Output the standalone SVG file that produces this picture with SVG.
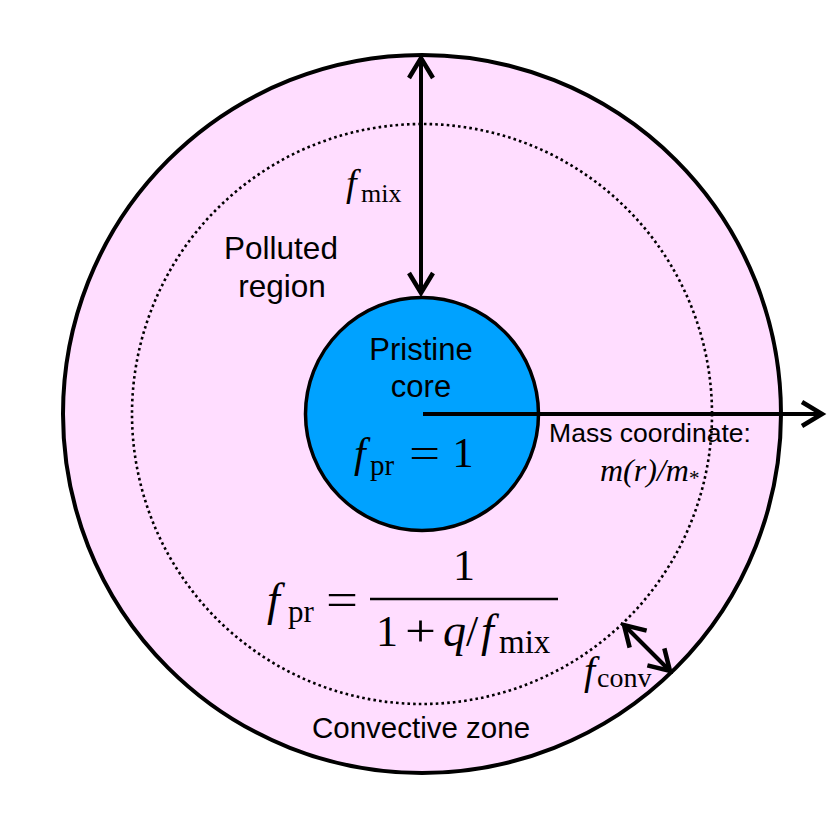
<svg xmlns="http://www.w3.org/2000/svg" width="830" height="830" viewBox="0 0 830 830">
<style>
.sans{font-family:"Liberation Sans",Arial,Helvetica,sans-serif;fill:#000;text-anchor:middle}
.m{font-family:"Liberation Serif","Times New Roman",serif;fill:#000}
.i{font-style:italic}
.ln{stroke:#000;stroke-width:4;fill:none}
</style>
<defs>
<marker id="ah" markerUnits="userSpaceOnUse" markerWidth="30" markerHeight="30" viewBox="-24 -15 30 30" refX="0" refY="0" orient="auto-start-reverse" overflow="visible">
<path d="M-20 -12 L0 0 L-20 12" fill="none" stroke="#000" stroke-width="4.5"/>
</marker>
</defs>
<rect width="830" height="830" fill="#fff"/>
<g id="convective-zone">
<circle cx="422" cy="414" r="359" fill="#FFDDFF" stroke="#000" stroke-width="4"/>
<text class="sans" x="421" y="738" font-size="29.5">Convective zone</text>
</g>
<g id="polluted-region">
<circle cx="422" cy="414" r="290" fill="none" stroke="#000" stroke-width="2.6" stroke-dasharray="2.6 3.1"/>
<text class="sans" x="281" y="259" font-size="31.5">Polluted</text>
<text class="sans" x="282" y="297" font-size="31.5">region</text>
</g>
<g id="pristine-core">
<circle cx="422" cy="414" r="116.5" fill="#00A2FF" stroke="#000" stroke-width="3.5"/>
<text class="sans" x="421" y="360" font-size="31">Pristine</text>
<text class="sans" x="421" y="397" font-size="31">core</text>
<text class="m i" x="354" y="467" font-size="42">f</text>
<text class="m" x="370" y="475" font-size="29">pr</text>
<text class="m" x="409" y="467" font-size="42" textLength="31" lengthAdjust="spacingAndGlyphs">=</text>
<text class="m" x="463" y="467" font-size="42" text-anchor="middle">1</text>
</g>
<g id="connectors">
<line class="ln" x1="421" y1="58" x2="421" y2="293" marker-start="url(#ah)" marker-end="url(#ah)"/>
<line class="ln" x1="423" y1="414" x2="822" y2="414" marker-end="url(#ah)"/>
<line class="ln" x1="624" y1="625" x2="670" y2="671" marker-start="url(#ah)" marker-end="url(#ah)"/>
</g>
<g id="labels">
<text class="m i" x="346" y="196" font-size="38">f</text>
<text class="m" x="361" y="202" font-size="26">mix</text>
<text class="sans" x="650" y="442" font-size="26.5">Mass coordinate:</text>
<text class="m i" x="600" y="481" font-size="32">m(r)/m<tspan font-size="21" font-style="normal" dy="4">*</tspan></text>
<text class="m i" x="584" y="684" font-size="40">f</text>
<text class="m" x="597" y="687" font-size="28">conv</text>
</g>
<g id="formula">
<text class="m i" x="267" y="615" font-size="46">f</text>
<text class="m" x="288" y="622" font-size="31">pr</text>
<text class="m" x="326" y="615" font-size="46" textLength="32" lengthAdjust="spacingAndGlyphs">=</text>
<line x1="370" y1="599" x2="558" y2="599" stroke="#000" stroke-width="2.6"/>
<text class="m" x="464" y="580" font-size="44" text-anchor="middle">1</text>
<text class="m" x="376" y="646" font-size="44">1</text>
<text class="m" x="405" y="646" font-size="44" textLength="31" lengthAdjust="spacingAndGlyphs">+</text>
<text class="m i" x="443" y="646" font-size="46">q</text>
<text class="m" x="466" y="646" font-size="44">/</text>
<text class="m i" x="481" y="646" font-size="46">f</text>
<text class="m" x="499" y="653" font-size="33">mix</text>
</g>
</svg>
